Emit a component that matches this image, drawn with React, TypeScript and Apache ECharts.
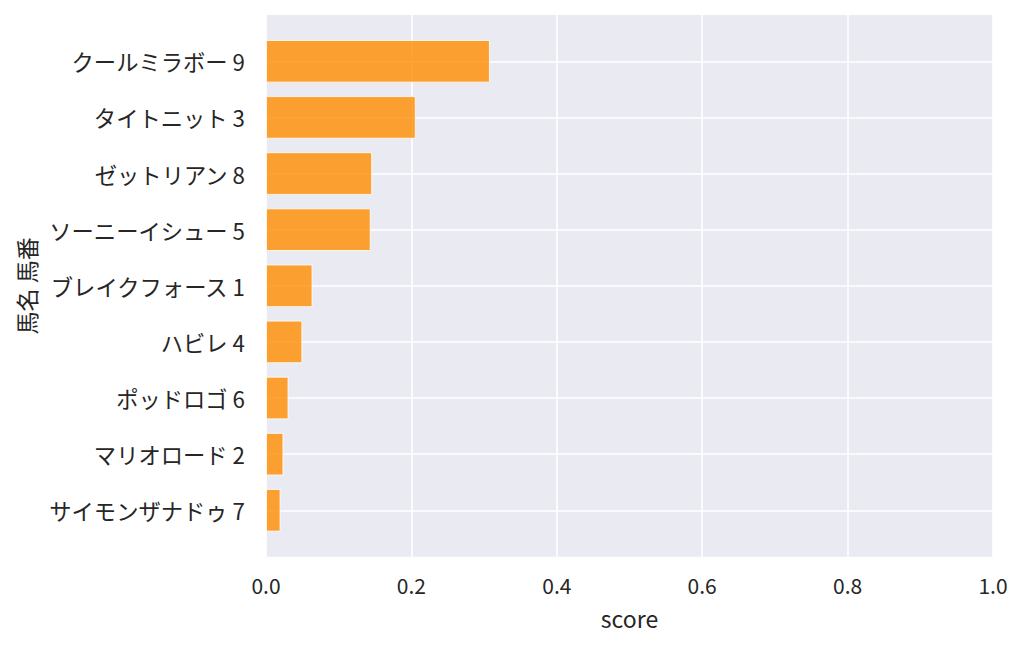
import React, { useEffect, useRef } from "react";
import * as echarts from "echarts";

const horses = [
  "クールミラボー 9",
  "タイトニット 3",
  "ゼットリアン 8",
  "ソーニーイシュー 5",
  "ブレイクフォース 1",
  "ハビレ 4",
  "ポッドロゴ 6",
  "マリオロード 2",
  "サイモンザナドゥ 7",
];
const scores = [0.308, 0.206, 0.146, 0.144, 0.064, 0.05, 0.031, 0.024, 0.02];
const xTicks = [0, 0.2, 0.4, 0.6, 0.8, 1.0];

const FONT = "'Noto Sans CJK JP', 'Noto Sans', sans-serif";
const TXT = "#262626";

export default function App() {
  const ref = useRef<HTMLDivElement>(null);
  useEffect(() => {
    if (!ref.current) return;
    const chart = echarts.init(ref.current, undefined, { renderer: "svg" });
    chart.setOption({
      animation: false,
      backgroundColor: "#ffffff",
      textStyle: { fontFamily: FONT },
      grid: [
        {
          left: 266,
          top: 15,
          width: 727,
          height: 541.7,
          show: true,
          backgroundColor: "#EAEAF2",
          borderWidth: 0,
          containLabel: false,
          outerBoundsMode: "none",
        },
        {
          left: 266,
          top: 33.25,
          width: 727,
          height: 505.1,
          show: false,
          containLabel: false,
          outerBoundsMode: "none",
        },
      ],
      xAxis: [
        {
          type: "value",
          gridIndex: 0,
          min: xTicks[0],
          max: xTicks[xTicks.length - 1],
          interval: 0.2,
          axisLine: { show: false },
          axisTick: { show: false },
          axisLabel: {
            fontSize: 21,
            color: TXT,
            fontFamily: FONT,
            margin: 18,
            formatter: (v: number) => v.toFixed(1),
          },
          splitLine: { show: true, lineStyle: { color: "#ffffff", width: 1.6 } },
          name: "score",
          nameLocation: "middle",
          nameGap: 50,
          nameTextStyle: { fontSize: 23, color: TXT, fontFamily: FONT },
        },
        {
          type: "value",
          gridIndex: 1,
          min: 0,
          max: 1,
          show: false,
        },
      ],
      yAxis: [
        {
          type: "value",
          gridIndex: 0,
          show: false,
          splitLine: { show: false },
        },
        {
          type: "category",
          gridIndex: 1,
          data: horses,
          inverse: true,
          axisLine: { show: false },
          axisTick: { show: false },
          splitLine: { show: false },
          axisLabel: { fontSize: 22.3, color: TXT, fontFamily: FONT, margin: 21 },
          name: "馬名 馬番",
          nameLocation: "middle",
          nameGap: 229,
          nameTextStyle: { fontSize: 23, color: TXT, fontFamily: FONT },
        },
      ],
      series: [
        {
          type: "bar",
          xAxisIndex: 1,
          yAxisIndex: 1,
          data: scores,
          barCategoryGap: "24%",
          z: 3,
          itemStyle: {
            color: "rgba(255,140,0,0.8)",
            borderColor: "rgba(255,255,255,0.8)",
            borderWidth: 1,
          },
          markLine: {
            silent: true,
            symbol: "none",
            z: 1,
            label: { show: false },
            lineStyle: { color: "#ffffff", width: 1.6, type: "solid" },
            data: horses.map((h) => ({ yAxis: h })),
          },
        },
      ],
    });
    return () => chart.dispose();
  }, []);
  return (
    <div
      ref={ref}
      style={{ position: "fixed", left: 0, top: 0, width: 1024, height: 648 }}
    />
  );
}
